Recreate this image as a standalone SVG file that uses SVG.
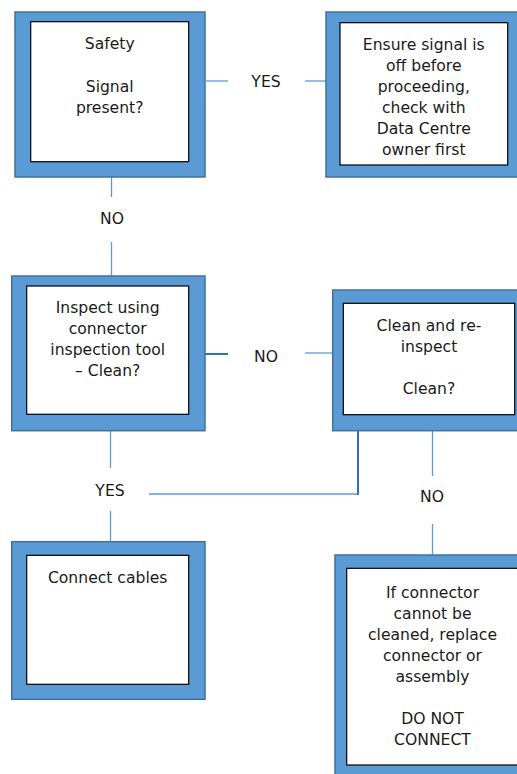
<svg xmlns="http://www.w3.org/2000/svg" width="517" height="774" viewBox="0 0 517 774">
<style>
.outer{fill:#5B9BD5;stroke:#41719C;stroke-width:1.5}
.inner{fill:#FFFFFF;stroke:#000000;stroke-width:1.2}
.t{font-family:"DejaVu Sans","Verdana",sans-serif;font-size:15.6px;fill:#1a1a1a;text-anchor:middle}
.c{fill:none;stroke:#5B9BD5;stroke-width:1.3}
.cd{fill:none;stroke:#2E75B6;stroke-width:2}
</style>
<rect width="517" height="774" fill="#FFFFFF"/>
<g id="connectors">
<line class="c" x1="206" y1="81" x2="228" y2="81"/>
<line class="c" x1="305" y1="81" x2="327" y2="81"/>
<line class="c" x1="111.5" y1="177" x2="111.5" y2="197"/>
<line class="c" x1="111.5" y1="242" x2="111.5" y2="276"/>
<line class="cd" x1="205" y1="354" x2="228" y2="354"/>
<line class="c" x1="305" y1="353" x2="333" y2="353"/>
<line class="c" x1="110.5" y1="431" x2="110.5" y2="468"/>
<line class="c" x1="110.5" y1="511" x2="110.5" y2="542"/>
<polyline class="c" points="149,494 358,494"/>
<line class="cd" x1="358" y1="431" x2="358" y2="495"/>
<line class="c" x1="432.5" y1="431" x2="432.5" y2="476"/>
<line class="c" x1="432.5" y1="524" x2="432.5" y2="555"/>
<text class="t" x="266" y="86.5">YES</text>
<text class="t" x="112" y="224">NO</text>
<text class="t" x="266" y="362">NO</text>
<text class="t" x="110" y="496">YES</text>
<text class="t" x="432" y="502">NO</text>
</g>
<g id="safety">
<rect class="outer" x="15" y="12" width="190" height="165"/>
<rect class="inner" x="30.7" y="21.7" width="158" height="140"/>
<text class="t" x="109.7" y="49">Safety</text>
<text class="t" x="109.7" y="91.5">Signal</text>
<text class="t" x="109.7" y="112.5">present?</text>
</g>
<g id="ensure">
<rect class="outer" x="326" y="12" width="194" height="165"/>
<rect class="inner" x="340" y="22.7" width="167.7" height="142.3"/>
<text class="t" x="423.8" y="50">Ensure signal is</text>
<text class="t" x="423.8" y="71">off before</text>
<text class="t" x="423.8" y="92">proceeding,</text>
<text class="t" x="423.8" y="113">check with</text>
<text class="t" x="423.8" y="134">Data Centre</text>
<text class="t" x="423.8" y="155">owner first</text>
</g>
<g id="inspect">
<rect class="outer" x="11.7" y="276" width="193.3" height="154.7"/>
<rect class="inner" x="26.7" y="286" width="162" height="128.3"/>
<text class="t" x="107.7" y="313">Inspect using</text>
<text class="t" x="107.7" y="334">connector</text>
<text class="t" x="107.7" y="355">inspection tool</text>
<text class="t" x="107.7" y="376">– Clean?</text>
</g>
<g id="reinspect">
<rect class="outer" x="332.7" y="290" width="188" height="140.7"/>
<rect class="inner" x="343.3" y="303.3" width="171.4" height="111.4"/>
<text class="t" x="429" y="331">Clean and re-</text>
<text class="t" x="429" y="352">inspect</text>
<text class="t" x="429" y="394">Clean?</text>
</g>
<g id="connect">
<rect class="outer" x="11.7" y="541.7" width="193.3" height="157.6"/>
<rect class="inner" x="26.7" y="555.3" width="162" height="129"/>
<text class="t" x="107.7" y="583">Connect cables</text>
</g>
<g id="replace">
<rect class="outer" x="335" y="555" width="186" height="222"/>
<rect class="inner" x="346.7" y="568.3" width="175" height="196.7"/>
<text class="t" x="432.5" y="598">If connector</text>
<text class="t" x="432.5" y="619">cannot be</text>
<text class="t" x="432.5" y="640">cleaned, replace</text>
<text class="t" x="432.5" y="661">connector or</text>
<text class="t" x="432.5" y="682">assembly</text>
<text class="t" x="432.5" y="724">DO NOT</text>
<text class="t" x="432.5" y="745">CONNECT</text>
</g>
</svg>
